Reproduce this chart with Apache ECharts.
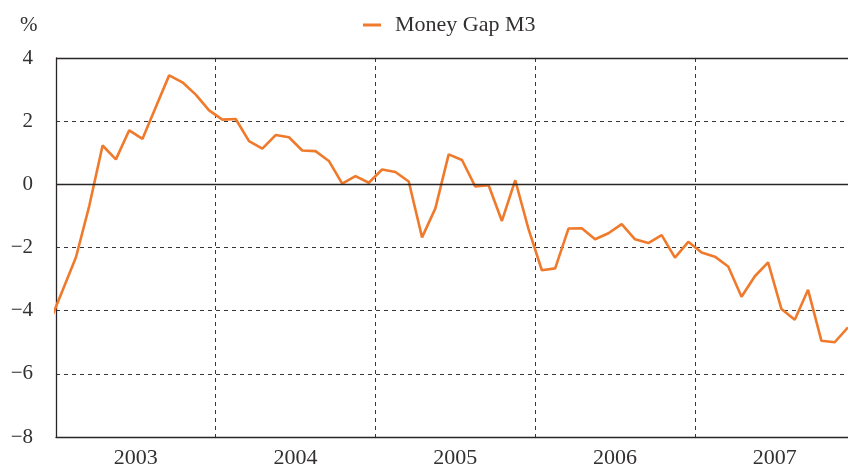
<!DOCTYPE html>
<html>
<head>
<meta charset="utf-8">
<script src="https://cdn.jsdelivr.net/npm/echarts@6/dist/echarts.min.js"></script>
<style>html,body{margin:0;padding:0;background:#fff}#c{width:848px;height:464px}</style>
</head>
<body>
<div id="c"></div>
<script>
// Monthly observations, Dec 2002 .. Dec 2007 (first point lies left of the axis and is clipped)
const months = [
  '2002-12',
  '2003-01','2003-02','2003-03','2003-04','2003-05','2003-06','2003-07','2003-08','2003-09','2003-10','2003-11','2003-12',
  '2004-01','2004-02','2004-03','2004-04','2004-05','2004-06','2004-07','2004-08','2004-09','2004-10','2004-11','2004-12',
  '2005-01','2005-02','2005-03','2005-04','2005-05','2005-06','2005-07','2005-08','2005-09','2005-10','2005-11','2005-12',
  '2006-01','2006-02','2006-03','2006-04','2006-05','2006-06','2006-07','2006-08','2006-09','2006-10','2006-11','2006-12',
  '2007-01','2007-02','2007-03','2007-04','2007-05','2007-06','2007-07','2007-08','2007-09','2007-10','2007-11','2007-12'
];
const moneyGapM3 = [
  -4.39,
  -3.35, -2.31, -0.68, 1.23, 0.79, 1.71, 1.44, 2.45, 3.45, 3.23, 2.84, 2.34,
  2.05, 2.07, 1.37, 1.13, 1.56, 1.49, 1.07, 1.05, 0.74, 0.02, 0.26, 0.05,
  0.47, 0.39, 0.09, -1.68, -0.76, 0.95, 0.77, -0.07, -0.03, -1.16, 0.13, -1.42,
  -2.72, -2.66, -1.40, -1.39, -1.74, -1.55, -1.26, -1.74, -1.86, -1.61, -2.32, -1.82,
  -2.16, -2.29, -2.60, -3.56, -2.91, -2.47, -3.95, -4.29, -3.34, -4.95, -5.00, -4.53
];
const yearLabels = ['2003', '2004', '2005', '2006', '2007'];
const seriesName = 'Money Gap M3';

// month position: months since start of 2003, at mid-month
function monthPos(s) {
  const [y, m] = s.split('-').map(Number);
  return (y - 2003) * 12 + (m - 1) + 0.5;
}
const seriesData = months.map((m, i) => [monthPos(m), moneyGapM3[i]]);
const yearCenters = yearLabels.map((y) => (Number(y) - 2003) * 12 + 6);
const yearStarts = yearLabels.map((y) => (Number(y) - 2003) * 12);

const FONT = '"Liberation Serif", "DejaVu Serif", serif';
const AXIS = '#2b2626';
const TEXT = '#333030';
const ORANGE = '#F07A2C';

const chart = echarts.init(document.getElementById('c'), null, { renderer: 'canvas' });
chart.setOption({
  animation: false,
  backgroundColor: '#fff',
  title: {
    text: '%', left: 15, top: 10,
    textStyle: { fontFamily: FONT, fontSize: 21, fontWeight: 'normal', color: TEXT }
  },
  legend: {
    data: [{ name: seriesName, icon: 'rect' }],
    left: 358, top: 9,
    itemWidth: 18, itemHeight: 3,
    itemStyle: { color: ORANGE },
    textStyle: { fontFamily: FONT, fontSize: 22, color: TEXT, padding: [0, 0, 0, 9] }
  },
  grid: { left: 56, right: 0, top: 58, bottom: 27, containLabel: false, outerBoundsMode: 'none' },
  xAxis: {
    type: 'value',
    min: 0, max: 59.5,
    axisLine: { show: true, onZero: false, lineStyle: { color: AXIS, width: 1.3 } },
    axisTick: { show: false, customValues: yearStarts },
    axisLabel: {
      customValues: yearCenters,
      margin: 10,
      fontFamily: FONT, fontSize: 22, color: TEXT,
      formatter: (v) => String(2003 + Math.floor(v / 12))
    },
    splitLine: { show: true, lineStyle: { color: '#3a3535', width: 1, type: [4, 4] } }
  },
  yAxis: {
    type: 'value',
    min: -8, max: 4, interval: 2,
    axisLine: { show: true, onZero: false, lineStyle: { color: AXIS, width: 1.3 } },
    axisTick: { show: false },
    axisLabel: {
      margin: 23,
      fontFamily: FONT, fontSize: 21, color: TEXT,
      formatter: (v) => (v < 0 ? '\u2212' + Math.abs(v) : String(v))
    },
    splitLine: { show: true, lineStyle: { color: '#3a3535', width: 1, type: [4, 4] } }
  },
  series: [
    {
      name: 'refLines',
      type: 'line',
      data: [],
      z: 1,
      silent: true,
      markLine: {
        silent: true,
        symbol: 'none',
        label: { show: false },
        lineStyle: { color: AXIS, width: 1.3, type: 'solid' },
        emphasis: { disabled: true },
        data: [{ yAxis: 0 }, { yAxis: 4 }]
      }
    },
    {
      name: seriesName,
      type: 'line',
      data: seriesData,
      z: 3,
      clip: true,
      showSymbol: false,
      symbol: 'none',
      color: ORANGE,
      lineStyle: { color: ORANGE, width: 2.6 }
    }
  ]
});
</script>
</body>
</html>
